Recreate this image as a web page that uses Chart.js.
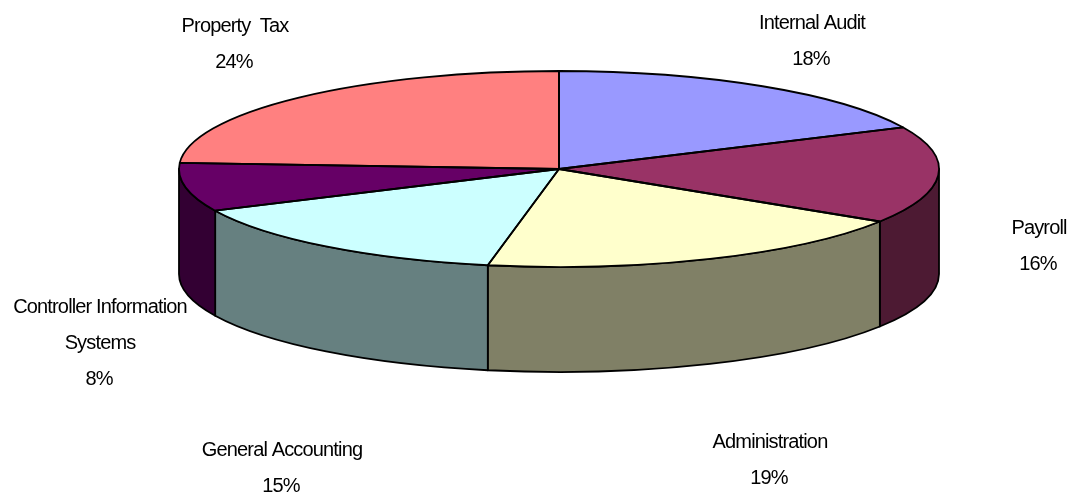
<!DOCTYPE html>
<html>
<head>
<meta charset="utf-8">
<title>Department share</title>
<script src="https://cdn.jsdelivr.net/npm/chart.js@4"></script>
<style>
  html, body { margin: 0; padding: 0; background: #ffffff; }
  canvas { display: block; }
</style>
</head>
<body>
<canvas id="pie" width="1075" height="499"></canvas>
<script>
// Slice data, clockwise from twelve o'clock
const categories = ["Internal Audit", "Payroll", "Administration", "General Accounting", "Controller Information Systems", "Property Tax"];
const shares = [18, 16, 19, 15, 8, 24];
const topColors = ["#9999FF", "#993366", "#FFFFCC", "#CCFFFF", "#660066", "#FF8080"];
const wallColors = ["#4D4D80", "#4D1A33", "#808066", "#668080", "#330033", "#804040"];

// Disc geometry in canvas pixels
const disc = { cx: 559, cy: 169, rx: 380, ry: 98, depth: 105 };

// Label blocks: centre x and baseline of the first line, with a wrap override per category
const labelSpots = [
  { x: 812, y: 29 }, { x: 1039, y: 234 }, { x: 770, y: 448 },
  { x: 282, y: 456 }, { x: 100, y: 313 }, { x: 235, y: 32 }
];
const labelWraps = [null, null, null, null, "Controller Information|Systems", "Property  Tax"];
const lineStep = 36;

const tiltedDisc = {
  id: "tiltedDisc",
  beforeDatasetsDraw(chart) {
    const ctx = chart.ctx;
    const arcs = chart.getDatasetMeta(0).data;
    const d = disc;

    // Outer wall: only the front half of the rim faces the viewer
    ctx.save();
    ctx.lineWidth = 1.8;
    ctx.strokeStyle = "#000000";
    ctx.lineJoin = "round";
    arcs.forEach((arc, i) => {
      const p = arc.getProps(["startAngle", "endAngle"], true);
      const a0 = Math.max(p.startAngle, 0);
      const a1 = Math.min(p.endAngle, Math.PI);
      if (a1 <= a0) return;
      ctx.beginPath();
      ctx.ellipse(d.cx, d.cy, d.rx, d.ry, 0, a0, a1);
      ctx.ellipse(d.cx, d.cy + d.depth, d.rx, d.ry, 0, a1, a0, true);
      ctx.closePath();
      ctx.fillStyle = wallColors[i];
      ctx.fill();
      ctx.stroke();
    });
    ctx.restore();

    // Flatten the circular pie into the disc's top face
    const first = arcs[0].getProps(["x", "y", "outerRadius"], true);
    ctx.save();
    ctx.translate(d.cx, d.cy);
    ctx.scale(d.rx / first.outerRadius, d.ry / first.outerRadius);
    ctx.translate(-first.x, -first.y);
  },
  afterDatasetsDraw(chart) {
    const ctx = chart.ctx;
    ctx.restore();
    const d = disc;

    // Slice outlines are stroked unscaled so the line weight stays even
    ctx.save();
    ctx.lineWidth = 1.8;
    ctx.strokeStyle = "#000000";
    ctx.lineJoin = "round";
    chart.getDatasetMeta(0).data.forEach((arc) => {
      const p = arc.getProps(["startAngle", "endAngle"], true);
      ctx.beginPath();
      ctx.moveTo(d.cx, d.cy);
      ctx.ellipse(d.cx, d.cy, d.rx, d.ry, 0, p.startAngle, p.endAngle);
      ctx.closePath();
      ctx.stroke();
    });
    ctx.restore();

    // Category name with its percentage underneath
    ctx.save();
    ctx.fillStyle = "#000000";
    ctx.font = '20px "Liberation Sans", Arial, sans-serif';
    ctx.letterSpacing = "-0.85px";
    ctx.textAlign = "center";
    ctx.textBaseline = "alphabetic";
    categories.forEach((name, i) => {
      const lines = (labelWraps[i] || name).split("|");
      lines.forEach((line, n) => {
        ctx.fillText(line, labelSpots[i].x, labelSpots[i].y + n * lineStep);
      });
      ctx.fillText(shares[i] + "%", labelSpots[i].x - 1, labelSpots[i].y + lines.length * lineStep);
    });
    ctx.restore();
  }
};

new Chart(document.getElementById("pie"), {
  type: "pie",
  data: {
    labels: categories,
    datasets: [{
      data: shares,
      backgroundColor: topColors,
      borderWidth: 0,
      clip: false
    }]
  },
  options: {
    responsive: false,
    animation: false,
    events: [],
    plugins: { legend: { display: false }, tooltip: { enabled: false }, title: { display: false } }
  },
  plugins: [tiltedDisc]
});
</script>
</body>
</html>
